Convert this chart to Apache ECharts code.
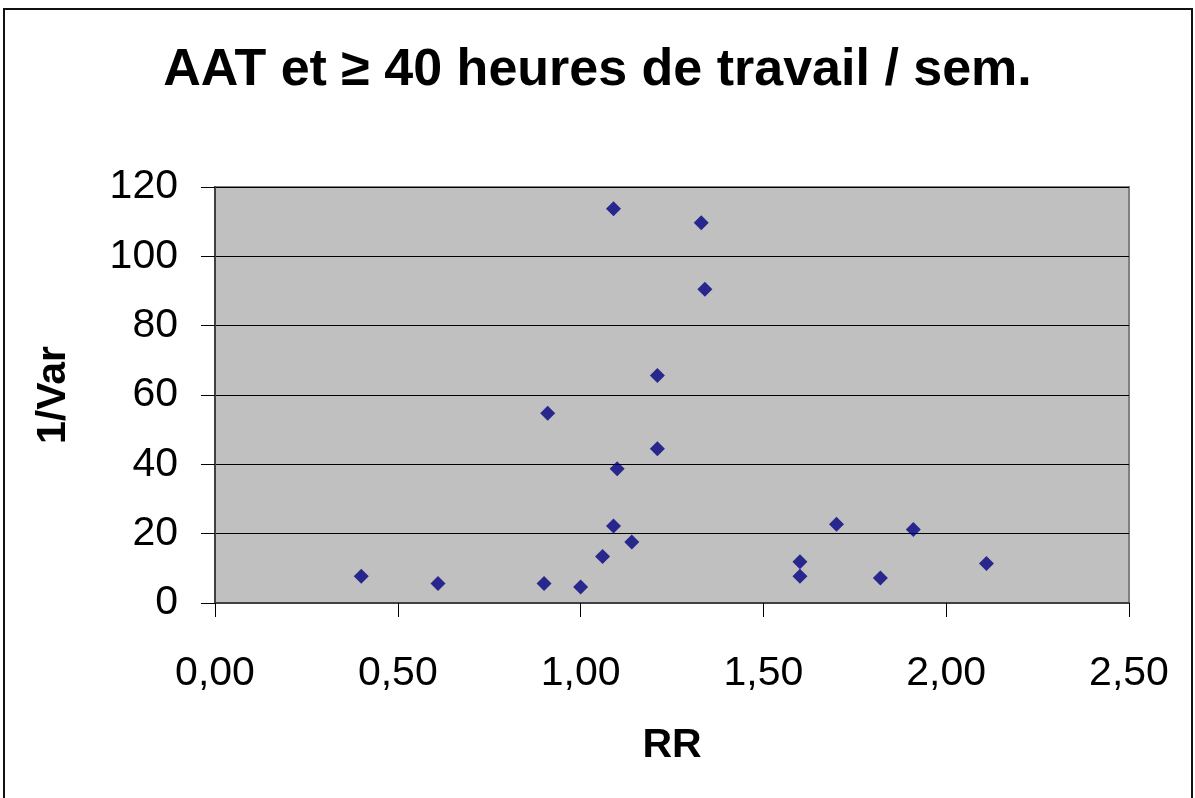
<!DOCTYPE html>
<html>
<head>
<meta charset="utf-8">
<title>AAT et ≥ 40 heures de travail / sem.</title>
<script src="https://cdn.jsdelivr.net/npm/echarts@6/dist/echarts.min.js"></script>
<style>
  html, body { margin: 0; padding: 0; background: #fff; }
  #chart { width: 1195px; height: 798px; }
</style>
</head>
<body>
<div id="chart"></div>
<script>
// valeurs (RR, 1/Var)
var rrValues = [0.40, 0.61, 0.90, 1.00, 1.06, 1.09, 1.14, 1.10, 1.21, 1.21, 0.91, 1.09, 1.33, 1.34, 1.60, 1.60, 1.70, 1.82, 1.91, 2.11];
var invVarValues = [7.7, 5.6, 5.6, 4.6, 13.4, 22.2, 17.6, 38.7, 44.5, 65.6, 54.7, 113.7, 109.7, 90.5, 11.9, 7.7, 22.7, 7.2, 21.2, 11.4];
var xTicks = [0, 0.5, 1, 1.5, 2, 2.5];
var yTicks = [0, 20, 40, 60, 80, 100, 120];

var points = [];
for (var i = 0; i < rrValues.length; i++) {
  points.push([rrValues[i], invVarValues[i]]);
}

var font = "'Liberation Sans', Arial, sans-serif";
var myChart = echarts.init(document.getElementById('chart'));

var option = {
  backgroundColor: '#fff',
  animation: false,
  title: {
    text: 'AAT et ≥ 40 heures de travail / sem.',
    left: 'center',
    top: 40,
    textStyle: { fontFamily: font, fontSize: 52, fontWeight: 'bold', color: '#000' }
  },
  graphic: [{
    type: 'rect',
    shape: { x: 4, y: 9, width: 1188, height: 800 },
    style: { fill: 'none', stroke: '#111', lineWidth: 2 },
    silent: true
  }],
  grid: {
    left: 215,
    right: 66,
    top: 187,
    bottom: 195,
    show: true,
    backgroundColor: '#C0C0C0',
    borderColor: '#808080',
    borderWidth: 2
  },
  xAxis: {
    type: 'value',
    min: xTicks[0],
    max: xTicks[xTicks.length - 1],
    interval: 0.5,
    name: 'RR',
    nameLocation: 'middle',
    nameGap: 122,
    nameTextStyle: { fontFamily: font, fontSize: 41, fontWeight: 'bold', color: '#000' },
    axisLine: { show: true, lineStyle: { color: '#404040', width: 2 } },
    axisTick: { show: true, inside: false, length: 14, lineStyle: { color: '#000', width: 1 } },
    splitLine: { show: false },
    axisLabel: {
      margin: 50,
      fontFamily: font,
      fontSize: 41,
      color: '#000',
      formatter: function (v) { return v.toFixed(2).replace('.', ','); }
    }
  },
  yAxis: {
    type: 'value',
    min: yTicks[0],
    max: yTicks[yTicks.length - 1],
    interval: 20,
    name: '1/Var',
    nameLocation: 'middle',
    nameGap: 141,
    nameTextStyle: { fontFamily: font, fontSize: 41, fontWeight: 'bold', color: '#000' },
    axisLine: { show: true, lineStyle: { color: '#404040', width: 2 } },
    axisTick: { show: true, inside: false, length: 14, lineStyle: { color: '#000', width: 1 } },
    splitLine: { show: true, lineStyle: { color: '#000', width: 1 } },
    axisLabel: { margin: 37, fontFamily: font, fontSize: 41, color: '#000' }
  },
  series: [{
    type: 'scatter',
    symbol: 'diamond',
    symbolSize: 15,
    itemStyle: { color: '#000080' },
    data: points
  }]
};

option && myChart.setOption(option);
</script>
</body>
</html>
